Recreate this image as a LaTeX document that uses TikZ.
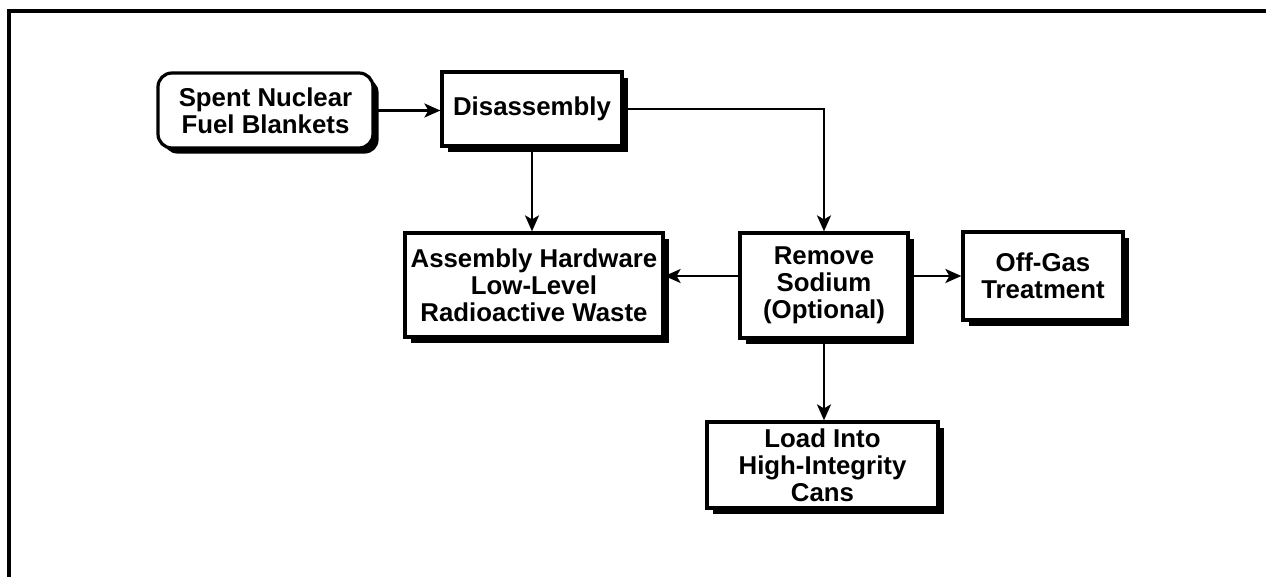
\documentclass[tikz,border=0pt]{standalone}
\usepackage{fontspec}
\setmainfont{Liberation Sans}
\usepackage{xcolor}
\usepackage{tikz}
\usetikzlibrary{arrows.meta}
\usetikzlibrary{shadows}
\usetikzlibrary{positioning, calc}

\begin{document}
\begin{tikzpicture}[x=0.5pt, y=-0.5pt,
    box/.style={draw, line width=1.6pt, fill=white, align=center,
        font=\bfseries\fontsize{12.9}{13.4}\selectfont,
        inner sep=0pt,
        drop shadow={shadow xshift=2.8pt, shadow yshift=-2.8pt, fill=black, opacity=1}},
    flow/.style={line width=1.3pt, -{Stealth[length=8pt, width=7pt, inset=2pt]}}]
    \useasboundingbox (0,0) rectangle (1266,577);
    \draw[line width=2pt] (9,577) -- (9,11) -- (1266,11);

    \node[box, rounded corners=7pt, minimum width=107.5pt, minimum height=37.5pt]
        (spent) at (265.5,110.5) {Spent Nuclear\\Fuel Blankets};
    \node[box, minimum width=90pt, minimum height=37pt]
        (dis) at (532,109) {Disassembly};
    \node[box, minimum width=129pt, minimum height=52pt]
        (asm) at (534,285) {Assembly Hardware\\Low-Level\\Radioactive Waste};
    \node[box, minimum width=84pt, minimum height=52.5pt]
        (rem) at (824,285.5) {Remove\\Sodium\\(Optional)};
    \node[box, minimum width=80pt, minimum height=44pt]
        (off) at (1043,276) {Off-Gas\\Treatment};
    \node[box, minimum width=115.5pt, minimum height=43pt]
        (load) at (822.5,465) {Load Into\\High-Integrity\\Cans};

    % connectors
    \draw[flow] (spent.east) -- (spent.east -| dis.west);
    \draw[flow] (dis.east) -| (rem.north);
    \draw[flow] (dis.south) -- (dis.south |- asm.north);
    \draw[flow] (rem.west |- off.west) -- (asm.east |- off.west);
    \draw[flow] (rem.east |- off.west) -- (off.west);
    \draw[flow] (rem.south) -- (rem.south |- load.north);
\end{tikzpicture}
\end{document}
